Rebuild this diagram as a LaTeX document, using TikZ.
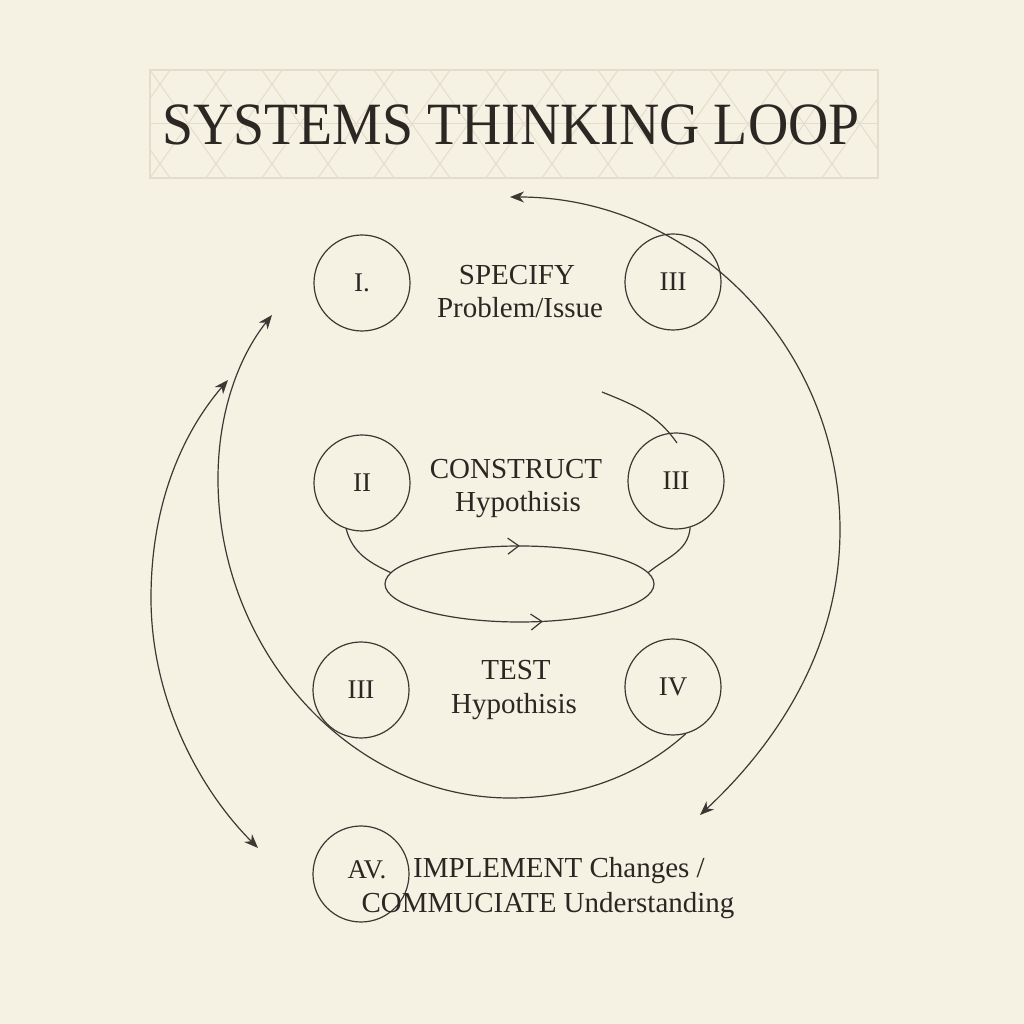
\documentclass[tikz,border=0pt]{standalone}
\usepackage{fontspec}
\setmainfont{Liberation Serif}
\usetikzlibrary{arrows.meta,shapes.geometric,decorations.markings}
\definecolor{paper}{HTML}{F5F1E3}
\definecolor{ink}{HTML}{2B2723}
\definecolor{linec}{HTML}{3C3833}
\definecolor{latc}{HTML}{E4DDCC}
\tikzset{
  conn/.style={draw=linec, line width=0.6pt},
  stl/.tip={Stealth[length=7pt,width=5.5pt,inset=2.2pt]},
  numc/.style={circle, draw=linec, line width=0.6pt, minimum size=48pt, inner sep=0pt, text=ink, font=\fontsize{13.5}{16}\selectfont},
  lbl/.style={anchor=base, text=ink, inner sep=0pt, font=\fontsize{14.5}{17}\selectfont},
  lat/.style={draw=latc, line width=0.5pt}
}
\begin{document}
\begin{tikzpicture}[x=0.5pt,y=0.5pt]
\fill[paper] (0,0) rectangle (1024,1024);
\useasboundingbox (0,0) rectangle (1024,1024);
% title box
\begin{scope}
  \clip (150,846) rectangle (878,954);
  \foreach \i in {-3,...,16} {
    \draw[lat] ({150+\i*56},954) -- ++(76,-108);
    \draw[lat] ({150+\i*56+76},954) -- ++(-76,-108);
  }
  \draw[lat] (150,900) -- (878,900);
\end{scope}
\node[draw=latc, line width=0.6pt, minimum width=364pt, minimum height=54pt, inner sep=0pt] (tbox) at (514,900) {};
\node[anchor=base, text=ink, inner sep=0pt, font=\fontsize{30}{36}\selectfont] (title) at (511,879) {\scalebox{0.93}[1]{SYSTEMS THINKING LOOP}};
% circles
\node[numc] (c1) at (362,741) {I.};
\node[numc] (c1r) at (673,742) {III};
\node[numc] (c2) at (362,541) {II};
\node[numc] (c2r) at (676,543) {III};
\node[numc] (c3) at (361,334) {III};
\node[numc] (c3r) at (673,337) {IV};
\node[numc] (c4) at (361,150) {};
\node[text=ink, inner sep=0pt, font=\fontsize{13.5}{16}\selectfont] (c4t) at (367,154) {AV.};
% labels
\node[lbl] (t1a) at (517,739) {SPECIFY};
\node[lbl] (t1b) at (520,706) {Problem/Issue};
\node[lbl] (t2a) at (516,545) {CONSTRUCT};
\node[lbl] (t2b) at (518,512) {Hypothisis};
\node[lbl] (t3a) at (516,344) {TEST};
\node[lbl] (t3b) at (514,310) {Hypothisis};
\node[lbl] (t4a) at (559,146) {IMPLEMENT Changes /};
\node[lbl] (t4b) at (548,111) {COMMUCIATE Understanding};
% ellipse
\node[ellipse, minimum width=134.5pt, minimum height=38pt, inner sep=0pt, outer sep=0pt] (el) at (519.5,440) {};
\draw[conn, postaction={decorate}, decoration={markings,
   mark=at position 0.271 with {\arrow{Straight Barb[reversed,length=5.5pt,width=8pt]}},
   mark=at position 0.79 with {\arrow{Straight Barb[length=5.5pt,width=8pt]}}}]
   (el.center) ellipse [x radius=134.5, y radius=38];
% coordinates
\coordinate (ra) at (510,827);
\coordinate (rb) at (700,209);
\coordinate (la) at (228,644);
\coordinate (lb) at (258,176);
\coordinate (ia) at (272,709);
\coordinate (ta) at (602,632);
\coordinate (tb) at (677,581);
% connectors
\draw[conn, {stl}-{stl}] (ra) .. controls (692,827) and (840,678) .. (840,494)
   .. controls (840,374) and (775,279) .. (rb);
\draw[conn, {stl}-{stl}] (lb) .. controls (200,234) and (151,324) .. (151,426)
   .. controls (151,524) and (185,594) .. (la);
\draw[conn, -{stl}] (c3r.-75) .. controls (640,249) and (580,226) .. (510,226)
   .. controls (350,226) and (218,374) .. (218,545)
   .. controls (218,614) and (240,669) .. (ia);
\draw[conn] (ta) to[out=-22,in=125] (tb);
\draw[conn] (c2.251) to[out=-75,in=155] (el.175);
\draw[conn] (c2r.-73) to[out=-95,in=40] (el.5);
\end{tikzpicture}
\end{document}
